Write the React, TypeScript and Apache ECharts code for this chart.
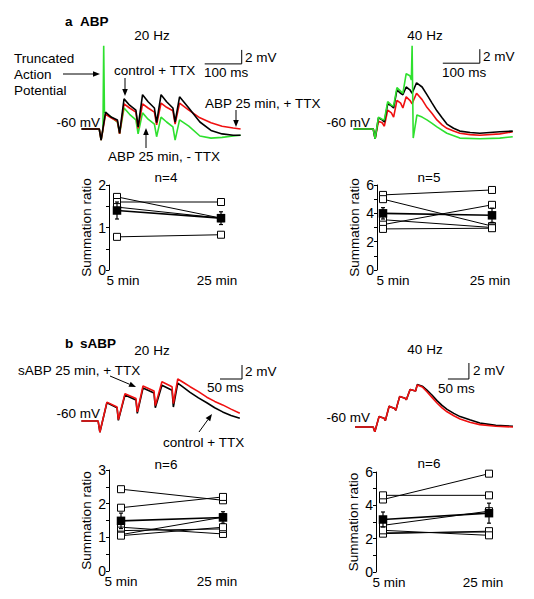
import React, { useEffect, useRef } from "react";
import * as echarts from "echarts";

const FONT = "Liberation Sans, Arial, Helvetica, sans-serif";
const FS = 13.5;

// ---------- a ABP, 20 Hz traces (ms, mV) ----------
const a20Time = [-50, -2, 3, 15, 30, 47, 53, 65, 80, 97, 103, 115, 130, 147, 153, 165, 180, 197, 203, 215, 240, 270, 300, 330, 360, 380];
const a20Control = [-60, -60, -61.6, -57.6, -58.3, -58.7, -60.6, -55.7, -56.6, -57.3, -59.7, -55.1, -56.1, -57.0, -59.1, -55.1, -56.1, -57.0, -59.0, -55.4, -57.0, -59.0, -60.2, -60.7, -60.9, -60.9];
const a20AbpTTX = [-60, -60, -61.6, -57.9, -58.4, -58.9, -60.7, -56.4, -57.0, -57.6, -59.9, -56.4, -57.0, -57.6, -59.4, -56.3, -56.9, -57.4, -59.3, -56.3, -57.3, -58.4, -59.1, -59.6, -59.85, -60];
const a20GreenTime = [-50, -2, 3, 8, 10, 12, 25, 47, 53, 65, 80, 97, 103, 115, 130, 147, 153, 165, 180, 197, 203, 215, 240, 270, 300, 330, 360, 380];
const a20AbpNoTTX = [-60, -60, -61.6, -60.1, -48.1, -57.6, -58.1, -59.0, -60.7, -57.0, -57.9, -58.7, -60.7, -57.7, -58.6, -59.3, -61.1, -58.3, -59.0, -59.7, -61.6, -58.7, -59.6, -61.0, -61.3, -61.2, -61.0, -60.9];
const a20ScaleBar = [[283, -50.7], [383, -50.7], [383, -48.7]];

// ---------- a ABP, 40 Hz traces ----------
const a40Time = [-55, -2, 3, 12, 22, 28, 37, 47, 53, 62, 72, 78, 87, 97, 103, 115, 130, 143, 157, 170, 184, 197, 215, 232, 260, 286, 340, 375];
const a40Control = [-60, -60, -61.4, -58.4, -58.7, -59.0, -56.4, -56.7, -57.0, -54.4, -54.9, -55.1, -54.0, -54.4, -54.9, -53.4, -54.0, -55.1, -56.3, -57.4, -58.4, -59.3, -59.9, -60.3, -60.5, -60.6, -60.4, -60.3];
const a40AbpTTX = [-60, -60, -61.4, -58.9, -59.1, -59.6, -57.3, -57.7, -58.3, -55.9, -56.3, -57.0, -55.4, -55.9, -56.4, -54.9, -55.8, -56.9, -57.8, -58.7, -59.4, -59.9, -60.3, -60.6, -60.8, -60.9, -60.7, -60.4];
const a40GreenTime = [-55, -2, 3, 12, 22, 28, 37, 47, 53, 62, 72, 78, 87, 97, 101, 103, 106, 116, 130, 143, 157, 170, 197, 232, 286, 340, 375];
const a40AbpNoTTX = [-60, -60, -61.4, -58.3, -58.6, -58.7, -56.1, -56.6, -56.7, -54.1, -54.6, -54.9, -52.1, -52.4, -53.0, -48.1, -61.3, -58.0, -58.3, -58.7, -59.2, -59.7, -60.6, -61.3, -61.4, -61.3, -61.1];
const a40ScaleBar = [[186, -50.6], [286, -50.6], [286, -48.6]];

// ---------- b sABP, 20 Hz traces ----------
const b20Time = [-40, -2, 2, 18, 41, 44, 59, 84, 87, 100, 125, 128, 143, 166, 169, 179, 192, 207, 226, 245, 263, 281, 300, 320];
const b20Control = [-60, -60, -61.6, -57.4, -58.1, -59.9, -56.3, -57.0, -58.9, -55.3, -56.0, -58.1, -54.9, -55.6, -58.0, -54.6, -55.2, -55.9, -56.7, -57.4, -58.1, -58.7, -59.2, -59.6];
const b20SabpTTX = [-60, -60, -61.6, -57.3, -58.0, -59.8, -56.1, -56.8, -58.7, -55.0, -55.7, -57.8, -54.4, -55.1, -57.5, -54.0, -54.5, -55.1, -55.8, -56.6, -57.2, -57.7, -58.3, -58.9];
const b20ScaleBar = [[275, -54], [325, -54], [325, -52]];

// ---------- b sABP, 40 Hz traces ----------
const b40Time = [-45, -2, 2, 12, 24, 27, 36, 49, 52, 61, 74, 77, 86, 99, 103, 115, 126, 138, 150, 162, 174, 190, 205, 228, 252, 290, 331];
const b40Control = [-60, -60, -60.6, -58.7, -58.9, -59.2, -57.4, -57.7, -57.9, -56.2, -56.4, -56.6, -55.3, -55.5, -54.7, -54.9, -55.4, -56.0, -56.7, -57.3, -57.8, -58.3, -58.7, -59.1, -59.5, -59.8, -59.9];
const b40SabpTTX = [-60, -60, -60.6, -58.7, -58.9, -59.2, -57.4, -57.7, -57.9, -56.2, -56.4, -56.6, -55.3, -55.5, -54.75, -55.0, -55.6, -56.3, -57.0, -57.6, -58.1, -58.6, -59.0, -59.4, -59.7, -59.9, -60];
const b40ScaleBar = [[176, -54], [226, -54], [226, -52]];

// ---------- Summation ratios ----------
const timeCats = ["5 min", "25 min"];
const aSum20Pre = [1.72, 1.6, 1.48, 0.78];
const aSum20Post = [1.22, 1.6, 1.22, 0.83];
const aSum20Mean = [1.4, 1.22];
const aSum20Err = [0.2, 0.15];

const aSum40Pre = [5.3, 5.0, 3.55, 3.2, 2.9];
const aSum40Post = [5.65, 3.1, 3.0, 4.6, 2.95];
const aSum40Mean = [4.0, 3.86];
const aSum40Err = [0.4, 0.5];

const bSum20Pre = [2.43, 1.88, 1.3, 1.2, 1.08, 1.05];
const bSum20Post = [2.1, 2.2, 1.1, 1.25, 1.6, 1.3];
const bSum20Mean = [1.49, 1.59];
const bSum20Err = [0.23, 0.17];

const bSum40Pre = [4.35, 4.6, 2.8, 2.35, 2.3, 2.5];
const bSum40Post = [5.9, 4.6, 3.65, 2.4, 2.45, 2.2];
const bSum40Mean = [3.15, 3.53];
const bSum40Err = [0.45, 0.6];

const BLACK = "#000000";
const RED = "#f01010";
const GREEN = "#2ee02e";

const pairs = (t: number[], v: number[]) => t.map((x, i) => [x, v[i]]);

function traceSeries(idx: number, t: number[], v: number[], color: string, z = 2) {
  return {
    type: "line",
    xAxisIndex: idx,
    yAxisIndex: idx,
    data: pairs(t, v),
    symbol: "none",
    showSymbol: false,
    clip: false,
    silent: true,
    z,
    lineStyle: { color, width: 1.6 },
  };
}

function scaleSeries(idx: number, pts: number[][]) {
  return {
    type: "line",
    xAxisIndex: idx,
    yAxisIndex: idx,
    data: pts,
    symbol: "none",
    clip: false,
    silent: true,
    lineStyle: { color: BLACK, width: 1 },
  };
}

function text(x: number, y: number, s: string, align = "left", bold = false) {
  return {
    type: "text",
    x,
    y,
    silent: true,
    style: {
      text: s,
      fill: BLACK,
      fontSize: FS,
      fontFamily: FONT,
      fontWeight: bold ? "bold" : "normal",
      align,
      verticalAlign: "middle",
    },
  };
}

function arrow(x1: number, y1: number, x2: number, y2: number) {
  const dx = x2 - x1;
  const dy = y2 - y1;
  const len = Math.sqrt(dx * dx + dy * dy);
  const ux = dx / len;
  const uy = dy / len;
  const hl = 7;
  const hw = 2.8;
  const bx = x2 - ux * hl;
  const by = y2 - uy * hl;
  return [
    { type: "line", silent: true, shape: { x1, y1, x2: bx, y2: by }, style: { stroke: BLACK, lineWidth: 1 } },
    {
      type: "polygon",
      silent: true,
      shape: { points: [[x2, y2], [bx - uy * hw, by + ux * hw], [bx + uy * hw, by - ux * hw]] },
      style: { fill: BLACK },
    },
  ];
}

function summaryPanel(idx: number, pre: number[], post: number[], mean: number[], err: number[]) {
  const list: any[] = [];
  pre.forEach((p, i) => {
    list.push({
      type: "line",
      xAxisIndex: idx,
      yAxisIndex: idx,
      data: [p, post[i]],
      symbol: "rect",
      symbolSize: 7,
      showSymbol: true,
      clip: false,
      silent: true,
      z: 3,
      lineStyle: { color: BLACK, width: 1 },
      itemStyle: { color: "#ffffff", borderColor: BLACK, borderWidth: 1 },
    });
  });
  list.push({
    type: "custom",
    xAxisIndex: idx,
    yAxisIndex: idx,
    silent: true,
    clip: false,
    z: 4,
    data: mean.map((m, i) => [i, m - err[i], m + err[i]]),
    renderItem: (params: any, api: any) => {
      const lo = api.coord([api.value(0), api.value(1)]);
      const hi = api.coord([api.value(0), api.value(2)]);
      const style = { stroke: BLACK, lineWidth: 1.2 };
      return {
        type: "group",
        children: [
          { type: "line", shape: { x1: lo[0], y1: lo[1], x2: hi[0], y2: hi[1] }, style },
          { type: "line", shape: { x1: lo[0] - 2, y1: lo[1], x2: lo[0] + 2, y2: lo[1] }, style },
          { type: "line", shape: { x1: hi[0] - 2, y1: hi[1], x2: hi[0] + 2, y2: hi[1] }, style },
        ],
      };
    },
  });
  list.push({
    type: "line",
    xAxisIndex: idx,
    yAxisIndex: idx,
    data: mean,
    symbol: "rect",
    symbolSize: 8.5,
    showSymbol: true,
    clip: false,
    silent: true,
    z: 5,
    lineStyle: { color: BLACK, width: 1.6 },
    itemStyle: { color: BLACK, borderColor: BLACK, borderWidth: 0 },
  });
  return list;
}

function traceAxes(idx: number, xmin: number, xmax: number, ymin: number, ymax: number) {
  return {
    x: { gridIndex: idx, type: "value", show: false, min: xmin, max: xmax },
    y: { gridIndex: idx, type: "value", show: false, min: ymin, max: ymax },
  };
}

function sumAxes(idx: number, max: number, interval: number, offset: number, shiftA: number, shiftB: number) {
  const lab = { color: BLACK, fontSize: FS, fontFamily: FONT };
  return {
    x: {
      gridIndex: idx,
      type: "category",
      data: timeCats,
      boundaryGap: false,
      axisLine: { show: false },
      axisTick: { show: false },
      splitLine: { show: false },
      axisLabel: {
        margin: 3,
        interval: 0,
        formatter: (v: string) => (v === timeCats[0] ? `{a|${v}}` : `{b|${v}}`),
        rich: {
          a: { ...lab, padding: shiftA >= 0 ? [0, 0, 0, 2 * shiftA] : [0, -2 * shiftA, 0, 0] },
          b: { ...lab, padding: shiftB >= 0 ? [0, 0, 0, 2 * shiftB] : [0, -2 * shiftB, 0, 0] },
        },
      },
    },
    y: {
      gridIndex: idx,
      type: "value",
      min: 0,
      max,
      interval,
      offset,
      axisLine: { show: true, lineStyle: { color: BLACK, width: 1 } },
      axisTick: { show: true, length: 3, lineStyle: { color: BLACK, width: 1 } },
      minorTick: { show: true, splitNumber: 2, length: 3, lineStyle: { color: BLACK, width: 1 } },
      splitLine: { show: false },
      axisLabel: { color: BLACK, fontSize: 14, fontFamily: FONT, margin: 3 },
      name: "Summation ratio",
      nameLocation: "middle",
      nameGap: 16,
      nameTextStyle: { color: BLACK, fontSize: FS, fontFamily: FONT },
    },
  };
}

export default function App() {
  const ref = useRef<HTMLDivElement>(null);

  useEffect(() => {
    document.body.style.margin = "0";
    if (!ref.current) return;
    const chart = echarts.init(ref.current, null, { renderer: "svg" });

    const grids = [
      { left: 63, top: 38, width: 192.4, height: 126 },
      { left: 337, top: 38, width: 192.4, height: 126 },
      { left: 77, top: 351, width: 167.2, height: 105 },
      { left: 353, top: 347, width: 168, height: 120 },
      { left: 117, top: 185, width: 104, height: 85 },
      { left: 383, top: 185, width: 109, height: 85 },
      { left: 121, top: 470, width: 102, height: 101 },
      { left: 383, top: 472, width: 106, height: 100 },
    ];

    const axes = [
      traceAxes(0, -100, 420, -65, -47),
      traceAxes(1, -100, 420, -65, -47),
      traceAxes(2, -50, 330, -65, -50),
      traceAxes(3, -50, 350, -65, -50),
      sumAxes(4, 2, 1, 8, 6, -4),
      sumAxes(5, 6, 2, 6, 10, -2),
      sumAxes(6, 3, 1, 12, 0, -6),
      sumAxes(7, 6, 2, 7, 6, -6),
    ];

    const series: any[] = [
      traceSeries(0, a20Time, a20Control, BLACK, 3),
      traceSeries(0, a20Time, a20AbpTTX, RED, 2),
      traceSeries(0, a20GreenTime, a20AbpNoTTX, GREEN, 1),
      scaleSeries(0, a20ScaleBar),
      traceSeries(1, a40Time, a40Control, BLACK, 3),
      traceSeries(1, a40Time, a40AbpTTX, RED, 2),
      traceSeries(1, a40GreenTime, a40AbpNoTTX, GREEN, 4),
      scaleSeries(1, a40ScaleBar),
      traceSeries(2, b20Time, b20Control, BLACK, 2),
      traceSeries(2, b20Time, b20SabpTTX, RED, 3),
      scaleSeries(2, b20ScaleBar),
      traceSeries(3, b40Time, b40Control, BLACK, 2),
      traceSeries(3, b40Time, b40SabpTTX, RED, 3),
      scaleSeries(3, b40ScaleBar),
      ...summaryPanel(4, aSum20Pre, aSum20Post, aSum20Mean, aSum20Err),
      ...summaryPanel(5, aSum40Pre, aSum40Post, aSum40Mean, aSum40Err),
      ...summaryPanel(6, bSum20Pre, bSum20Post, bSum20Mean, bSum20Err),
      ...summaryPanel(7, bSum40Pre, bSum40Post, bSum40Mean, bSum40Err),
    ];

    const graphics: any[] = [
      text(65, 21, "a", "left", true),
      text(80, 21, "ABP", "left", true),
      text(152, 35, "20 Hz", "center"),
      text(14, 58, "Truncated"),
      text(14, 74, "Action"),
      text(14, 90, "Potential"),
      ...arrow(63, 74, 100, 74),
      text(114, 70, "control + TTX"),
      ...arrow(125, 78, 125, 96),
      text(205, 103, "ABP 25 min, + TTX"),
      ...arrow(236, 110, 236, 127),
      text(108, 156, "ABP 25 min, - TTX"),
      ...arrow(146, 148, 146, 128),
      text(100, 122, "-60 mV", "right"),
      text(245, 57, "2 mV"),
      text(204, 72, "100 ms"),
      text(425, 35, "40 Hz", "center"),
      text(370, 122, "-60 mV", "right"),
      text(483, 56, "2 mV"),
      text(442, 72, "100 ms"),
      text(166, 177, "n=4", "center"),
      text(429, 177, "n=5", "center"),
      text(65, 343, "b", "left", true),
      text(80, 343, "sABP", "left", true),
      text(152, 350, "20 Hz", "center"),
      text(18, 370, "sABP 25 min, + TTX"),
      ...arrow(110, 376, 136, 387),
      text(245, 371, "2 mV"),
      text(207, 387, "50 ms"),
      text(100, 413, "-60 mV", "right"),
      text(163, 442, "control + TTX"),
      ...arrow(199, 432, 212, 414),
      text(425, 349, "40 Hz", "center"),
      text(473, 370, "2 mV"),
      text(438, 388, "50 ms"),
      text(370, 417, "-60 mV", "right"),
      text(166, 464, "n=6", "center"),
      text(429, 463, "n=6", "center"),
    ];

    chart.setOption({
      animation: false,
      backgroundColor: "#ffffff",
      textStyle: { fontFamily: FONT },
      grid: grids,
      xAxis: axes.map((a) => a.x),
      yAxis: axes.map((a) => a.y),
      series,
      graphic: { elements: graphics },
    });

    return () => chart.dispose();
  }, []);

  return <div ref={ref} style={{ width: 534, height: 599 }} />;
}
